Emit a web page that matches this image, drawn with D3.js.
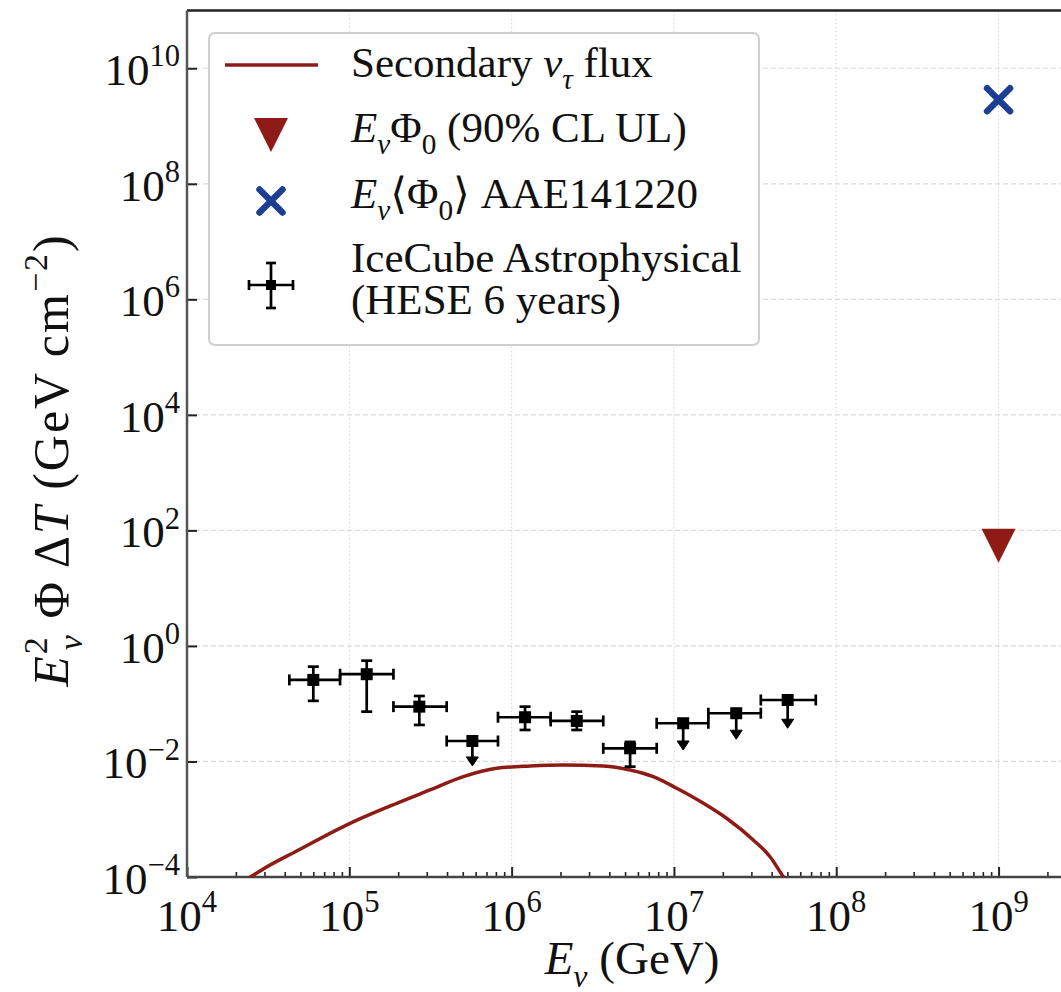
<!DOCTYPE html>
<html>
<head>
<meta charset="utf-8" />
<title>Secondary nu_tau flux</title>
<script src="https://cdn.jsdelivr.net/npm/d3@7"></script>
<style>
  html, body { margin: 0; background: #fff; }
  svg { display: block; }
  text { font-family: "Liberation Serif", "DejaVu Serif", serif; fill: #111; }
</style>
</head>
<body>
<svg id="chart" width="1061" height="992"></svg>
<script>
// secondary nu_tau flux, E (GeV) vs E^2 Phi dT (GeV cm^-2)
var curveE = [2.2e4, 2.39e4, 2.95e4, 4.74e4, 1.01e5, 1.96e5, 3.14e5, 5.04e5, 8.09e5, 1.30e6, 2.08e6,
              3.67e6, 5.37e6, 7.46e6, 1.04e7, 1.52e7, 2.11e7, 3.08e7, 3.91e7, 4.72e7, 5.1e7];
var curveF = [8.2e-5, 9.5e-5, 1.38e-4, 2.82e-4, 8.5e-4, 1.89e-3, 3.21e-3, 5.46e-3, 7.62e-3, 8.36e-3, 8.69e-3,
              8.36e-3, 7.13e-3, 5.46e-3, 3.44e-3, 1.89e-3, 1.04e-3, 4.38e-4, 2.24e-4, 1.01e-4, 7.5e-5];

// IceCube HESE 6 years
var heseE   = [6.0e4, 1.28e5, 2.70e5, 5.73e5, 1.21e6, 2.52e6, 5.37e6, 1.14e7, 2.42e7, 5.02e7];
var heseElo = [4.27e4, 8.77e4, 1.87e5, 3.98e5, 8.24e5, 1.74e6, 3.67e6, 7.83e6, 1.63e7, 3.43e7];
var heseEhi = [8.77e4, 1.87e5, 3.98e5, 8.24e5, 1.74e6, 3.67e6, 7.83e6, 1.63e7, 3.43e7, 7.48e7];
var heseF   = [0.258, 0.324, 0.0889, 0.0226, 0.0583, 0.0503, 0.0169, 0.0459, 0.0684, 0.116];
var heseFlo = [0.112, 0.0728, 0.0429, 0.00836, 0.0351, 0.0351, 0.00813, 0.0158, 0.0243, 0.0376];
var heseFhi = [0.438, 0.556, 0.136, 0.0226, 0.0889, 0.0728, 0.0218, 0.0459, 0.0684, 0.116];
var heseUL  = [false, false, false, true, false, false, false, true, true, true];

// single points at 1e9 GeV
var ulE = [1e9], ulF = [54];
var aaeE = [1e9], aaeF = [2.85e9];

var xTickExp = [4, 5, 6, 7, 8, 9];
var yTickExp = [-4, -2, 0, 2, 4, 6, 8, 10];

var RED = "#8e1b15", BLUE = "#1c3f94";
var pL = 187, pR = 1076, pT = 10.5, pB = 877;

var svg = d3.select("#chart");
var x = d3.scaleLog().domain([1e4, 3e9]).range([pL, pR]);
var y = d3.scaleLog().domain([1e-4, 1e11]).range([pB, pT]);

svg.append("defs").append("clipPath").attr("id", "plotclip")
  .append("rect").attr("x", pL).attr("y", pT).attr("width", pR - pL).attr("height", pB - pT);

// grid
var grid = svg.append("g");
grid.selectAll(".gx").data(xTickExp).enter().append("line")
  .attr("x1", function(d){ return x(Math.pow(10, d)); }).attr("x2", function(d){ return x(Math.pow(10, d)); })
  .attr("y1", pT).attr("y2", pB)
  .attr("stroke", "#e2e2e2").attr("stroke-width", 1.2).attr("stroke-dasharray", "2,2");
grid.selectAll(".gy").data(yTickExp).enter().append("line")
  .attr("x1", pL).attr("x2", pR)
  .attr("y1", function(d){ return y(Math.pow(10, d)); }).attr("y2", function(d){ return y(Math.pow(10, d)); })
  .attr("stroke", "#dadada").attr("stroke-width", 1.2).attr("stroke-dasharray", "5,3");

// ticks (inward)
var minor = [];
for (var e = 4; e < 10; e++) for (var m = 2; m < 10; m++) if (m * Math.pow(10, e) < 3e9) minor.push(m * Math.pow(10, e));
svg.append("g").attr("transform", "translate(0," + pB + ")")
  .call(d3.axisBottom(x).tickValues(xTickExp.map(function(d){ return Math.pow(10, d); }))
        .tickSizeInner(-10).tickSizeOuter(0).tickFormat(""))
  .call(function(g){ g.select(".domain").remove(); g.selectAll("line").attr("stroke", "#222").attr("stroke-width", 2); });
svg.append("g").attr("transform", "translate(0," + pB + ")")
  .call(d3.axisBottom(x).tickValues(minor).tickSizeInner(-5).tickSizeOuter(0).tickFormat(""))
  .call(function(g){ g.select(".domain").remove(); g.selectAll("line").attr("stroke", "#222").attr("stroke-width", 1.6); });
svg.append("g").attr("transform", "translate(" + pL + ",0)")
  .call(d3.axisLeft(y).tickValues(yTickExp.map(function(d){ return Math.pow(10, d); }))
        .tickSizeInner(-10).tickSizeOuter(0).tickFormat(""))
  .call(function(g){ g.select(".domain").remove(); g.selectAll("line").attr("stroke", "#222").attr("stroke-width", 2); });

// spines
svg.append("line").attr("x1", pL).attr("x2", pR).attr("y1", pT).attr("y2", pT).attr("stroke", "#222").attr("stroke-width", 2.5);
svg.append("line").attr("x1", pL).attr("x2", pR).attr("y1", pB).attr("y2", pB).attr("stroke", "#444").attr("stroke-width", 2.5);
svg.append("line").attr("x1", pL).attr("x2", pL).attr("y1", pT).attr("y2", pB).attr("stroke", "#555").attr("stroke-width", 2.5);

// rich text helper: parts {t, it, sub, sup, dx}
function rich(sel, parts, fs) {
  var cur = 0;
  parts.forEach(function(p){
    var ts = sel.append("tspan").text(p.t);
    var target = p.sub ? fs * 0.28 : (p.sup ? -fs * 0.42 : 0);
    ts.attr("dy", target - cur); cur = target;
    if (p.sub || p.sup) ts.style("font-size", (fs * 0.68) + "px");
    if (p.it) ts.style("font-style", "italic");
    if (p.dx) ts.attr("dx", p.dx);
  });
}

function powLabel(sel, exp, fs) {
  rich(sel, [{t: "10"}, {t: exp < 0 ? "\u2212" + (-exp) : String(exp), sup: true}], fs);
}

// tick labels
xTickExp.forEach(function(d){
  var t = svg.append("text").attr("x", x(Math.pow(10, d))).attr("y", 931)
    .attr("text-anchor", "middle").style("font-size", "45px");
  powLabel(t, d, 45);
});
yTickExp.forEach(function(d){
  var t = svg.append("text").attr("x", 180).attr("y", y(Math.pow(10, d)) + 17)
    .attr("text-anchor", "end").style("font-size", "45px");
  powLabel(t, d, 45);
});

// axis labels
var xl = svg.append("text").attr("x", 632).attr("y", 974).attr("text-anchor", "middle").style("font-size", "47px");
rich(xl, [{t: "E", it: true}, {t: "\u03bd", it: true, sub: true}, {t: " (GeV)"}], 47);
var yl = svg.append("text").attr("transform", "translate(68,460) rotate(-90)").attr("text-anchor", "middle")
  .style("font-size", "50px").style("letter-spacing", "2px");
rich(yl, [{t: "E", it: true}, {t: "2", sup: true}, {t: "\u03bd", it: true, sub: true, dx: -15},
          {t: " \u03a6 \u0394"}, {t: "T", it: true}, {t: " (GeV cm"}, {t: "\u22122", sup: true}, {t: ")"}], 50);

var plot = svg.append("g").attr("clip-path", "url(#plotclip)");

// secondary flux curve
var line = d3.line().x(function(d){ return x(d[0]); }).y(function(d){ return y(d[1]); }).curve(d3.curveMonotoneX);
plot.append("path").datum(d3.zip(curveE, curveF)).attr("d", line)
  .attr("fill", "none").attr("stroke", RED).attr("stroke-width", 3.5);

// HESE error bars
var hese = d3.range(heseE.length).map(function(i){
  return {e: heseE[i], elo: heseElo[i], ehi: heseEhi[i], f: heseF[i], flo: heseFlo[i], fhi: heseFhi[i], ul: heseUL[i]};
});
var eb = plot.selectAll(".eb").data(hese).enter().append("g").attr("stroke", "#000").attr("stroke-width", 2.7);
var cap = 5.5;
eb.append("line").attr("x1", function(d){ return x(d.elo); }).attr("x2", function(d){ return x(d.ehi); })
  .attr("y1", function(d){ return y(d.f); }).attr("y2", function(d){ return y(d.f); });
eb.append("line").attr("x1", function(d){ return x(d.elo); }).attr("x2", function(d){ return x(d.elo); })
  .attr("y1", function(d){ return y(d.f) - cap; }).attr("y2", function(d){ return y(d.f) + cap; });
eb.append("line").attr("x1", function(d){ return x(d.ehi); }).attr("x2", function(d){ return x(d.ehi); })
  .attr("y1", function(d){ return y(d.f) - cap; }).attr("y2", function(d){ return y(d.f) + cap; });
eb.append("line").attr("x1", function(d){ return x(d.e); }).attr("x2", function(d){ return x(d.e); })
  .attr("y1", function(d){ return y(d.fhi); }).attr("y2", function(d){ return d.ul ? y(d.flo) - 6 : y(d.flo); });
eb.filter(function(d){ return !d.ul; }).append("line")
  .attr("x1", function(d){ return x(d.e) - cap; }).attr("x2", function(d){ return x(d.e) + cap; })
  .attr("y1", function(d){ return y(d.fhi); }).attr("y2", function(d){ return y(d.fhi); });
eb.filter(function(d){ return !d.ul; }).append("line")
  .attr("x1", function(d){ return x(d.e) - cap; }).attr("x2", function(d){ return x(d.e) + cap; })
  .attr("y1", function(d){ return y(d.flo); }).attr("y2", function(d){ return y(d.flo); });
eb.filter(function(d){ return d.ul; }).append("path")
  .attr("d", function(d){ var cx = x(d.e), cy = y(d.flo); return "M" + (cx - 6) + "," + (cy - 9) + "L" + (cx + 6) + "," + (cy - 9) + "L" + cx + "," + cy + "Z"; })
  .attr("fill", "#000").attr("stroke-width", 1);
plot.selectAll(".sq").data(hese).enter().append("rect")
  .attr("x", function(d){ return x(d.e) - 6; }).attr("y", function(d){ return y(d.f) - 6; })
  .attr("width", 12).attr("height", 12).attr("fill", "#000");

// upper limit triangle and AAE141220 cross
function tri(g, cx, cy, r) {
  g.append("path").attr("d", "M" + (cx - r) + "," + (cy - r) + "L" + (cx + r) + "," + (cy - r) + "L" + cx + "," + (cy + r) + "Z")
    .attr("fill", RED);
}
function cross(g, cx, cy, r) {
  g.append("path").attr("d", "M" + (cx - r) + "," + (cy - r) + "L" + (cx + r) + "," + (cy + r) + "M" + (cx - r) + "," + (cy + r) + "L" + (cx + r) + "," + (cy - r))
    .attr("stroke", BLUE).attr("stroke-width", 6.5).attr("stroke-linecap", "round").attr("fill", "none");
}
ulE.forEach(function(d, i){ tri(plot, x(d), y(ulF[i]), 17); });
aaeE.forEach(function(d, i){ cross(plot, x(d), y(aaeF[i]), 11.5); });

// legend
var lg = svg.append("g");
lg.append("rect").attr("x", 209).attr("y", 33).attr("width", 550).attr("height", 312).attr("rx", 6)
  .attr("fill", "#fff").attr("fill-opacity", 0.9).attr("stroke", "#cfcfcf").attr("stroke-width", 2);
lg.append("line").attr("x1", 225).attr("x2", 318).attr("y1", 65).attr("y2", 65).attr("stroke", RED).attr("stroke-width", 3.5);
tri(lg, 271, 135, 17);
cross(lg, 271, 201, 11.5);
var le = lg.append("g").attr("stroke", "#000").attr("stroke-width", 2.7);
le.append("line").attr("x1", 249).attr("x2", 293).attr("y1", 285).attr("y2", 285);
le.append("line").attr("x1", 271).attr("x2", 271).attr("y1", 263).attr("y2", 308);
le.append("line").attr("x1", 249).attr("x2", 249).attr("y1", 280).attr("y2", 290);
le.append("line").attr("x1", 293).attr("x2", 293).attr("y1", 280).attr("y2", 290);
le.append("line").attr("x1", 266).attr("x2", 276).attr("y1", 263).attr("y2", 263);
le.append("line").attr("x1", 266).attr("x2", 276).attr("y1", 308).attr("y2", 308);
lg.append("rect").attr("x", 266).attr("y", 280).attr("width", 10).attr("height", 10).attr("fill", "#000");

var LF = 43;
function legText(yy, parts) {
  var t = lg.append("text").attr("x", 351).attr("y", yy).style("font-size", LF + "px");
  rich(t, parts, LF);
}
legText(77, [{t: "Secondary "}, {t: "\u03bd", it: true}, {t: "\u03c4", it: true, sub: true}, {t: " flux"}]);
legText(142, [{t: "E", it: true}, {t: "\u03bd", it: true, sub: true}, {t: "\u03a6"}, {t: "0", sub: true}, {t: " (90% CL UL)"}]);
legText(208, [{t: "E", it: true}, {t: "\u03bd", it: true, sub: true}, {t: "\u27e8\u03a6"}, {t: "0", sub: true}, {t: "\u27e9 AAE141220"}]);
legText(272, [{t: "IceCube Astrophysical"}]);
legText(314, [{t: "(HESE 6 years)"}]);
</script>
</body>
</html>
